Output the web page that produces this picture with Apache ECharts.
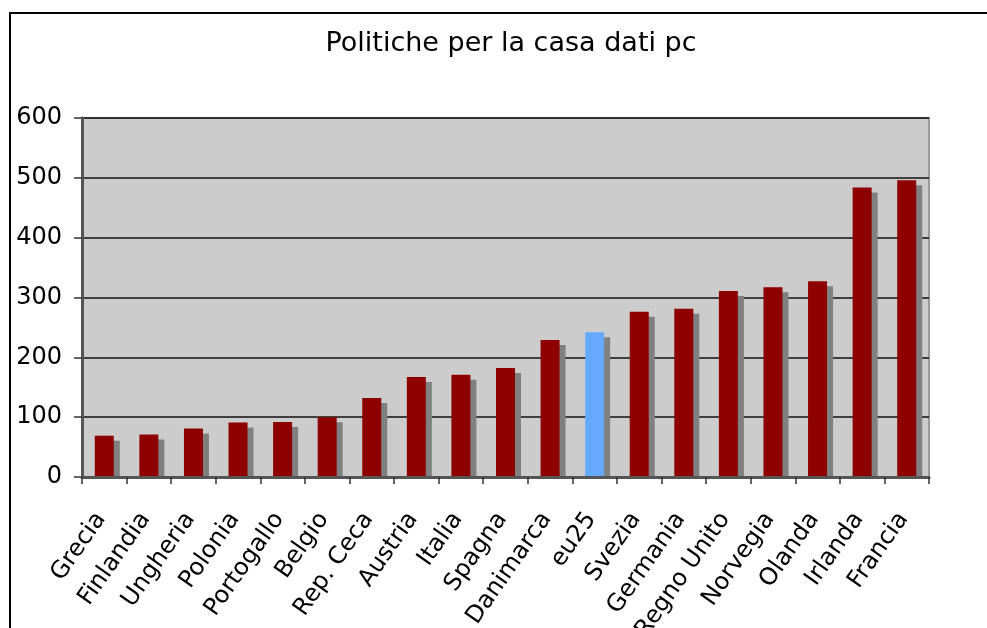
<!DOCTYPE html>
<html>
<head>
<meta charset="utf-8">
<title>Politiche per la casa dati pc</title>
<script src="https://cdn.jsdelivr.net/npm/echarts@6/dist/echarts.min.js"></script>
<style>
	html, body { margin: 0; padding: 0; background: #fff; }
	#chart1 { width: 987px; height: 628px; }
</style>
</head>
<body>
<div id="chart1"></div>
<script>
// dati
var titleText = "Politiche per la casa dati pc";
var paesi = ["Grecia", "Finlandia", "Ungheria", "Polonia", "Portogallo", "Belgio", "Rep. Ceca", "Austria", "Italia", "Spagna",
	"Danimarca", "eu25", "Svezia", "Germania", "Regno Unito", "Norvegia", "Olanda", "Irlanda", "Francia"];
var valori = [69, 71, 81, 91, 92, 100, 132, 167, 171, 182, 229, 242, 276, 281, 311, 317, 327, 484, 496];
var yTicks = [0, 100, 200, 300, 400, 500, 600];
var evidenziato = "eu25";

var font = "DejaVu Sans, Verdana, sans-serif";
var barW = 19;

var myChart = echarts.init(document.getElementById("chart1"));

var option = {
	backgroundColor: "#fff",
	animation: false,
	title: {
		text: titleText,
		left: 506,
		textAlign: "center",
		top: 25,
		textStyle: { fontFamily: font, fontSize: 27, fontWeight: "normal", color: "#000" },
	},
	graphic: [
		{
			type: "rect",
			shape: { x: 10, y: 13, width: 1100, height: 800 },
			style: { fill: null, stroke: "#000", lineWidth: 2 },
			z: 100,
		},
	],
	grid: {
		left: 82,
		right: 58,
		top: 118,
		bottom: 151,
		containLabel: false,
		outerBoundsMode: "none",
		show: true,
		backgroundColor: "#cccccc",
		borderColor: "#999",
		borderWidth: 2,
	},
	xAxis: {
		type: "category",
		data: paesi,
		axisLine: { show: true, lineStyle: { color: "#555", width: 3 } },
		axisTick: { show: true, length: 7, lineStyle: { color: "#333", width: 1.5 } },
		axisLabel: {
			rotate: 55,
			interval: 0,
			margin: 33,
			padding: [0, 6, 0, 0],
			fontFamily: font,
			fontSize: 24,
			color: "#000",
		},
		z: 5,
	},
	yAxis: {
		type: "value",
		min: yTicks[0],
		max: yTicks[yTicks.length - 1],
		interval: 100,
		axisLine: { show: true, lineStyle: { color: "#555", width: 3 } },
		axisTick: { show: true, length: 8, lineStyle: { color: "#333", width: 1.5 } },
		axisLabel: { margin: 20, fontFamily: font, fontSize: 24, color: "#000" },
		splitLine: { show: true, lineStyle: { color: "#111", width: 1.5 } },
	},
	series: [
		{
			// ombra grigia dietro le barre
			type: "custom",
			data: valori.map(function (v, i) { return [i, v]; }),
			renderItem: function (params, api) {
				var top = api.coord([api.value(0), api.value(1)]);
				var base = api.coord([api.value(0), 0]);
				var x = top[0] - barW / 2 + 6;
				var y = top[1] + 5;
				return {
					type: "rect",
					shape: { x: x, y: y, width: barW, height: base[1] - y },
					style: { fill: "#808080" },
				};
			},
			z: 1,
			silent: true,
		},
		{
			type: "bar",
			barWidth: barW,
			data: valori.map(function (v, i) {
				return {
					value: v,
					itemStyle: { color: paesi[i] === evidenziato ? "#66aaff" : "#8e0000" },
				};
			}),
			z: 2,
		},
	],
};

myChart.setOption(option);
</script>
</body>
</html>
